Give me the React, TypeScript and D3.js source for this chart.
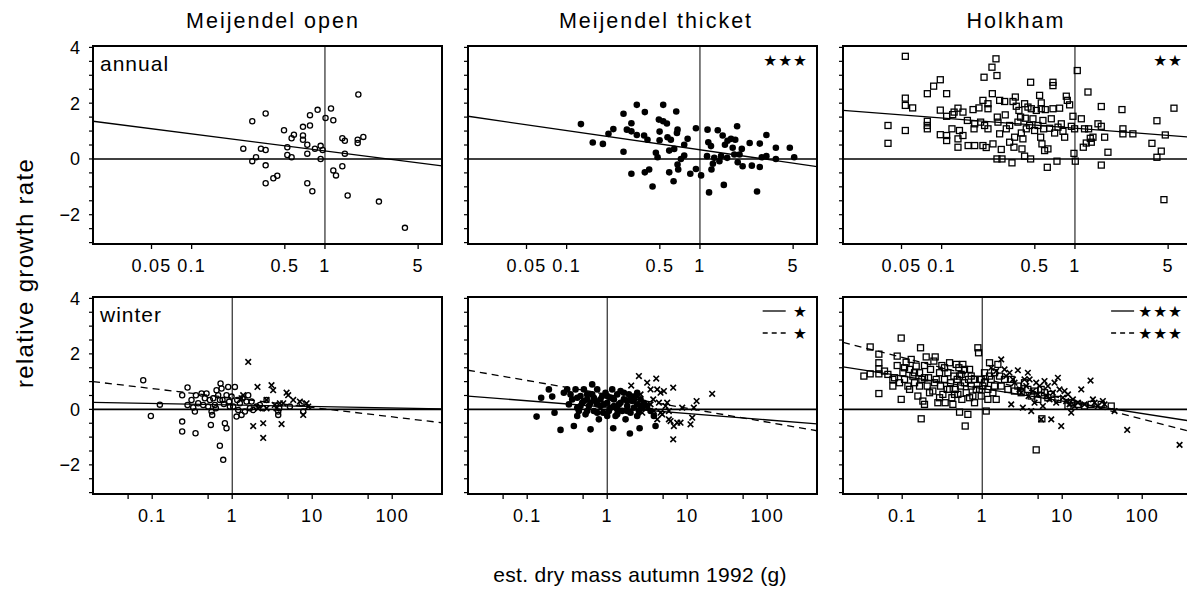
import React from 'react';
import * as d3 from 'd3';

// ---------- data (mass in g, relative growth rate) ----------
const titles = ['Meijendel open', 'Meijendel thicket', 'Holkham'];
const rowLabels = ['annual', 'winter'];
const yTickLabels = [-2, 0, 2, 4];
const topXTicks = [0.05, 0.1, 0.5, 1, 5];
const topXLabels = ['0.05', '0.1', '0.5', '1', '5'];
const bottomXTicks = [0.05, 0.1, 0.5, 1, 5, 10, 50, 100];
const bottomXLabels = ['', '0.1', '', '1', '', '10', '', '100'];

const openAnnual = [[0.244,0.37],[0.285,1.35],[0.285,-0.08],[0.304,0.06],[0.331,0.37],[0.359,1.63],[0.359,0.32],[0.359,-0.23],[0.359,-0.87],[0.41,-0.69],[0.439,-0.6],[0.493,1.03],[0.522,0.42],[0.522,0.14],[0.562,0.06],[0.562,0.74],[0.585,0.87],[0.684,1.15],[0.684,0.84],[0.684,0.69],[0.737,0.51],[0.737,0.19],[0.737,-0.87],[0.772,1.57],[0.772,1.2],[0.804,-1.16],[0.841,0.37],[0.881,1.76],[0.928,0.47],[0.928,0.0],[0.961,0.32],[1.01,1.47],[1.11,1.81],[1.155,1.39],[1.155,-0.41],[1.21,-0.59],[1.35,0.74],[1.35,-0.26],[1.41,0.65],[1.41,0.19],[1.48,-1.31],[1.76,0.57],[1.76,0.69],[1.78,2.31],[1.94,0.79],[2.54,-1.53],[3.98,-2.47]];

const thicketAnnual = [[0.128,1.25],[0.157,0.59],[0.187,0.54],[0.206,0.9],[0.224,1.07],[0.267,1.62],[0.267,0.26],[0.283,1.05],[0.306,1.28],[0.306,0.99],[0.306,-0.53],[0.336,1.94],[0.336,0.86],[0.381,0.84],[0.386,1.68],[0.386,-0.48],[0.404,0.69],[0.416,-0.38],[0.441,-0.99],[0.467,0.22],[0.481,0.06],[0.492,1.41],[0.498,0.98],[0.498,0.67],[0.53,1.94],[0.53,1.35],[0.565,1.27],[0.571,0.78],[0.588,0.3],[0.588,-0.48],[0.605,0.69],[0.634,-0.8],[0.641,0.36],[0.664,1.7],[0.672,0.93],[0.679,1.05],[0.679,-0.2],[0.687,-0.38],[0.72,0.0],[0.762,0.12],[0.762,0.51],[0.808,0.72],[0.846,-0.53],[0.933,1.1],[0.933,-0.36],[1.02,-0.59],[1.13,0.1],[1.14,1.05],[1.155,0.6],[1.17,-1.2],[1.21,0.46],[1.22,-0.38],[1.25,-0.17],[1.28,0.04],[1.36,1.03],[1.4,-0.08],[1.44,0.1],[1.48,0.84],[1.51,-0.93],[1.54,0.51],[1.6,0.04],[1.61,0.65],[1.71,0.72],[1.76,0.4],[1.81,0.16],[1.84,0.69],[1.9,1.17],[1.92,-0.12],[1.98,0.16],[2.06,0.36],[2.09,-0.26],[2.36,0.57],[2.45,-0.24],[2.68,-1.17],[2.81,0.55],[2.81,-0.29],[2.91,0.06],[3.15,0.86],[3.15,0.1],[3.71,0.4],[3.71,0.0],[4.72,0.4],[5.09,0.06]];

const holkhamAnnual = [[0.0396,1.2],[0.0396,0.56],[0.0534,3.68],[0.0534,2.18],[0.0534,1.92],[0.0534,1.02],[0.0606,1.83],[0.0781,2.34],[0.0781,1.35],[0.0781,1.2],[0.0781,1.08],[0.0871,2.61],[0.0977,2.84],[0.0977,0.87],[0.0977,1.75],[0.109,2.34],[0.109,0.84],[0.109,0.66],[0.109,1.53],[0.1195,1.08],[0.121,1.59],[0.124,1.68],[0.1326,1.82],[0.1326,0.72],[0.1326,0.42],[0.136,1.02],[0.1445,0.84],[0.1445,1.68],[0.156,1.38],[0.158,0.48],[0.172,1.77],[0.175,1.08],[0.177,1.26],[0.177,0.48],[0.1905,1.83],[0.196,1.32],[0.204,2.1],[0.204,0.48],[0.208,2.93],[0.21,1.2],[0.216,0.41],[0.2226,1.98],[0.2226,1.8],[0.2226,1.08],[0.2385,3.29],[0.24,2.34],[0.2427,0.54],[0.2556,3.59],[0.26,2.99],[0.26,0.0],[0.2615,1.5],[0.2646,1.32],[0.2723,2.1],[0.2723,0.9],[0.28,0.34],[0.2835,0.0],[0.297,2.06],[0.3,1.58],[0.3055,1.08],[0.3236,1.2],[0.3236,0.6],[0.337,-0.14],[0.343,2.06],[0.3487,0.42],[0.3527,0.78],[0.357,2.22],[0.363,1.89],[0.3736,1.32],[0.38,1.74],[0.391,1.5],[0.396,0.93],[0.4005,0.36],[0.407,0.72],[0.419,1.98],[0.419,0.1],[0.424,1.46],[0.4315,1.08],[0.444,1.86],[0.457,1.2],[0.465,2.75],[0.465,0.0],[0.4705,1.8],[0.484,1.44],[0.498,1.02],[0.513,1.74],[0.528,1.2],[0.543,2.28],[0.553,0.78],[0.559,2.01],[0.559,1.8],[0.5655,0.54],[0.575,1.38],[0.582,1.08],[0.592,0.3],[0.599,1.77],[0.62,-0.3],[0.627,0.36],[0.6457,1.1],[0.6645,1.44],[0.684,2.75],[0.684,2.63],[0.684,1.8],[0.704,0.93],[0.733,-0.08],[0.746,1.14],[0.767,1.82],[0.79,1.26],[0.813,0.99],[0.837,0.78],[0.861,2.25],[0.876,2.1],[0.912,1.94],[0.939,1.17],[0.966,1.53],[0.983,0.2],[0.994,1.08],[1.006,-0.08],[1.041,3.17],[1.116,1.44],[1.155,0.42],[1.18,1.08],[1.216,0.57],[1.252,2.4],[1.266,1.08],[1.303,0.74],[1.326,0.6],[1.365,0.78],[1.488,1.26],[1.576,1.88],[1.576,1.17],[1.576,-0.22],[1.67,0.78],[1.768,0.24],[2.252,1.77],[2.29,1.08],[2.29,0.9],[2.72,0.9],[3.78,0.56],[4.12,1.37],[4.12,0.06],[4.44,0.28],[4.65,-1.46],[4.76,0.86],[5.53,1.82]];

const openWinterAutumn = [[0.0772,1.05],[0.0962,-0.24],[0.1247,0.17],[0.237,0.51],[0.237,-0.44],[0.237,-0.8],[0.2765,0.79],[0.2765,0.16],[0.31,0.34],[0.3256,0.07],[0.3415,-0.08],[0.348,-0.86],[0.3515,0.51],[0.3758,0.22],[0.414,0.57],[0.434,0.16],[0.455,0.4],[0.4776,0.57],[0.501,0.1],[0.526,0.34],[0.541,-0.56],[0.552,-0.08],[0.562,-0.2],[0.579,0.4],[0.607,0.16],[0.625,0.04],[0.637,0.69],[0.668,0.51],[0.701,0.34],[0.701,-1.31],[0.715,0.93],[0.736,0.75],[0.757,0.34],[0.772,-1.82],[0.787,0.19],[0.81,-0.5],[0.849,-0.68],[0.849,0.51],[0.891,0.81],[0.917,0.28],[0.935,0.1],[0.981,0.46],[1.029,0.1],[1.08,0.81],[1.133,-0.26],[1.155,0.34],[1.189,-0.02],[1.247,0.22],[1.308,-0.2],[1.346,0.4],[1.44,-0.08],[1.51,0.28],[1.585,0.51],[1.663,0.04],[1.745,0.28],[1.83,-0.02],[2.015,0.1],[2.218,0.16],[2.44,0.04],[2.685,0.34],[3.76,-0.08],[3.76,-0.2],[3.87,0.04],[5.26,0.1],[7.36,0.22],[7.72,-0.08]];
const openWinterSpring = [[1.585,1.71],[1.83,-0.6],[2.07,0.81],[2.11,0.04],[2.44,-0.5],[2.44,-1.03],[2.685,0.34],[3.1,0.87],[3.25,0.69],[3.41,0.16],[3.58,0.04],[4.14,-0.53],[4.34,0.22],[4.78,0.6],[5.01,0.51],[5.79,0.34],[7.01,0.28],[7.72,-0.2],[8.5,0.22],[8.91,0.1],[2.685,0.04],[1.308,0.4],[1.372,0.51],[3.94,0.22]];

const thicketWinterAutumn = [[0.131,-0.26],[0.1496,0.42],[0.1866,0.72],[0.2054,0.46],[0.2196,-0.12],[0.261,-0.74],[0.287,0.6],[0.316,0.72],[0.332,0.18],[0.348,0.54],[0.365,0.36],[0.383,-0.6],[0.402,0.72],[0.422,0.06],[0.422,0.42],[0.422,-0.24],[0.442,-0.06],[0.464,0.48],[0.464,0.12],[0.487,0.24],[0.511,0.72],[0.511,0.3],[0.536,-0.18],[0.562,0.36],[0.562,0.54],[0.562,-0.06],[0.59,0.12],[0.619,-0.72],[0.619,0.24],[0.649,0.9],[0.649,0.54],[0.681,-0.06],[0.681,0.42],[0.715,0.3],[0.75,0.72],[0.75,0.18],[0.75,-0.12],[0.787,-0.36],[0.825,0.12],[0.825,0.36],[0.866,0.48],[0.891,-0.12],[0.909,0.18],[0.953,0.6],[1.0,0.24],[1.0,0.48],[1.0,-0.24],[1.049,-0.06],[1.1,0.42],[1.1,0.06],[1.155,0.72],[1.189,-0.68],[1.212,0.12],[1.212,0.36],[1.271,-0.24],[1.334,0.54],[1.334,0.0],[1.334,-0.18],[1.4,0.18],[1.468,0.66],[1.468,0.24],[1.54,-0.06],[1.616,0.36],[1.616,0.6],[1.695,-0.36],[1.778,0.12],[1.778,0.3],[1.778,-0.06],[1.866,0.54],[1.92,-0.87],[1.957,-0.12],[1.957,0.48],[2.054,0.3],[2.154,0.06],[2.154,0.36],[2.26,0.48],[2.37,0.18],[2.37,0.6],[2.37,-0.24],[2.49,-0.06],[2.54,-0.68],[2.61,0.36],[2.61,0.12],[2.74,0.06],[2.87,0.24],[3.16,0.12],[3.48,-0.06],[3.83,-0.24],[4.02,-0.6]];
const thicketWinterSpring = [[1.995,0.86],[2.49,1.2],[2.61,0.54],[3.16,0.96],[3.48,0.72],[3.76,0.36],[4.1,1.11],[4.22,0.72],[4.43,0.24],[4.64,0.6],[4.87,-0.18],[5.11,0.66],[5.36,0.12],[5.62,0.24],[5.9,-0.06],[6.19,-0.42],[6.68,0.78],[6.68,-1.08],[6.81,-0.6],[7.5,-0.48],[8.25,-0.48],[8.66,0.06],[11.0,-0.54],[11.55,-0.3],[12.1,0.06],[13.1,0.3],[20.5,0.56],[3.83,-0.06],[4.22,-0.36],[4.64,-0.12],[5.9,-0.36],[2.74,-0.12],[3.48,0.18]];

const holkhamWinterAutumn = [[0.0332,1.2],[0.0398,2.25],[0.0398,1.28],[0.0511,1.99],[0.0511,1.68],[0.0511,1.46],[0.0511,1.28],[0.0511,0.57],[0.0601,1.38],[0.0662,1.26],[0.0764,0.84],[0.0764,1.08],[0.0802,1.14],[0.0866,1.92],[0.0866,1.58],[0.0926,0.96],[0.0972,2.57],[0.0972,0.36],[0.102,1.32],[0.107,1.08],[0.107,1.5],[0.112,1.7],[0.1178,0.84],[0.1236,1.44],[0.1236,0.72],[0.1296,1.8],[0.136,1.2],[0.1426,0.96],[0.1426,1.32],[0.1496,1.56],[0.157,0.48],[0.1647,1.32],[0.1647,0.84],[0.1695,2.22],[0.1728,-0.34],[0.176,1.08],[0.1813,0.3],[0.19,0.18],[0.19,1.58],[0.19,1.14],[0.1995,1.89],[0.2054,0.84],[0.2134,1.14],[0.2196,0.6],[0.226,1.44],[0.2416,0.66],[0.2488,1.74],[0.2535,0.96],[0.2585,1.89],[0.266,1.08],[0.279,0.24],[0.293,1.32],[0.293,0.42],[0.3013,0.84],[0.313,1.58],[0.3224,0.54],[0.338,1.08],[0.338,1.5],[0.3446,0.24],[0.365,0.72],[0.3724,1.32],[0.391,1.68],[0.391,0.72],[0.402,0.96],[0.4178,0.42],[0.43,0.18],[0.4426,1.2],[0.451,0.54],[0.4597,0.72],[0.473,1.62],[0.487,1.08],[0.4965,0.54],[0.511,1.5],[0.521,-0.1],[0.521,1.2],[0.536,0.84],[0.5464,1.26],[0.557,0.36],[0.573,1.62],[0.601,0.96],[0.601,1.44],[0.613,-0.6],[0.631,0.6],[0.662,-0.18],[0.675,1.08],[0.695,1.44],[0.695,0.42],[0.729,0.84],[0.729,1.2],[0.764,0.48],[0.802,0.24],[0.802,1.08],[0.841,0.72],[0.883,2.22],[0.9,2.04],[0.926,1.08],[0.926,0.72],[0.972,0.48],[0.972,1.08],[1.019,0.84],[1.069,1.32],[1.069,0.96],[1.122,-0.06],[1.177,0.36],[1.177,0.72],[1.235,1.68],[1.235,1.2],[1.296,1.08],[1.36,0.6],[1.426,0.84],[1.426,1.32],[1.496,0.36],[1.57,1.62],[1.647,1.2],[1.728,0.84],[1.9,1.08],[2.094,0.72],[2.305,1.08],[2.535,0.66],[2.79,0.84],[3.07,0.6],[3.38,0.96],[3.72,0.72],[4.1,0.48],[4.51,0.66],[4.73,-1.46],[4.96,0.36],[5.46,0.72],[5.57,-0.34],[6.01,0.6],[6.62,0.42],[7.29,0.54],[8.83,0.36],[11.8,0.12],[12.96,0.24],[15.7,0.18],[19.0,0.12],[23.0,0.18],[30.7,0.18],[41.0,0.12]];
const holkhamWinterSpring = [[1.296,1.5],[1.496,1.38],[1.728,1.8],[1.9,1.44],[1.995,1.2],[2.195,1.32],[2.305,0.18],[2.42,1.08],[2.535,0.96],[2.79,1.41],[2.93,0.72],[3.07,0.6],[3.22,0.06],[3.38,1.08],[3.55,0.84],[3.72,1.32],[3.8,0.48],[3.91,1.08],[4.1,-0.06],[4.3,0.66],[4.51,0.24],[4.73,0.96],[4.96,0.54],[5.21,0.84],[5.46,-0.36],[5.73,0.12],[6.01,1.02],[6.31,0.48],[6.62,0.84],[6.95,0.36],[7.29,-0.36],[7.64,0.6],[8.02,0.96],[8.41,0.24],[8.83,1.14],[9.26,0.72],[9.72,-0.6],[10.2,0.42],[10.7,0.66],[11.2,0.3],[11.8,0.54],[12.35,0.18],[12.96,-0.12],[13.6,0.36],[14.3,0.12],[15.7,0.24],[17.3,0.72],[19.0,0.18],[22.6,1.04],[24.2,0.36],[25.4,0.24],[27.9,0.12],[32.2,0.3],[33.8,0.18],[45.1,-0.06],[64.9,-0.74],[293,-1.28]];

// regression fits: [rgr at 1 g, slope per decade of mass]
const annualFits = [[0.29,-0.61],[0.33,-0.69],[1.10,-0.37]];
const winterSolidFits = [[0.16,-0.054],[0.08,-0.23],[0.75,-0.45]];
const winterDashedFits = [[0.41,-0.34],[0.54,-0.50],[1.13,-0.74]];
const annualSig = ['', '★★★', '★★'];
const winterSig = [['', ''], ['★', '★'], ['★★★', '★★★']];

// ---------- layout ----------
const W = 1187, H = 593;
const FONT = '"Liberation Sans", Arial, Helvetica, sans-serif';
const STARFONT = '"DejaVu Sans", sans-serif';
const lefts = [93, 468, 843];
const PW = 349;
const rowBox = [{ top: 46, bottom: 244 }, { top: 297, bottom: 494 }];
const topDomain = [0.0182, 7.55];
const bottomDomain = [0.0182, 419];
const yDomain = [-3.05, 4.05];
const titleX = [273, 656, 1016];

const annualSeries = [
  [{ data: openAnnual, shape: 'circle' }],
  [{ data: thicketAnnual, shape: 'dot' }],
  [{ data: holkhamAnnual, shape: 'square' }],
];
const winterSeries = [
  [{ data: openWinterAutumn, shape: 'circle' }, { data: openWinterSpring, shape: 'cross' }],
  [{ data: thicketWinterAutumn, shape: 'dot' }, { data: thicketWinterSpring, shape: 'cross' }],
  [{ data: holkhamWinterAutumn, shape: 'square' }, { data: holkhamWinterSpring, shape: 'cross' }],
];

function marker(shape: string, x: number, y: number, k: string) {
  if (shape === 'circle') return <circle key={k} cx={x} cy={y} r={2.6} fill="none" stroke="#000" strokeWidth={1.3} />;
  if (shape === 'dot') return <circle key={k} cx={x} cy={y} r={3.3} fill="#000" />;
  if (shape === 'square') return <rect key={k} x={x - 3} y={y - 3} width={6} height={6} fill="none" stroke="#000" strokeWidth={1.3} />;
  const s = 2.8;
  return <path key={k} d={`M${x - s},${y - s}L${x + s},${y + s}M${x - s},${y + s}L${x + s},${y - s}`} stroke="#000" strokeWidth={1.6} fill="none" />;
}

function Panel({ row, col }: { row: number; col: number }) {
  const box = rowBox[row];
  const L = lefts[col];
  const R = L + PW;
  const dom = row === 0 ? topDomain : bottomDomain;
  const x = d3.scaleLog().domain(dom).range([L, R]);
  const y = d3.scaleLinear().domain(yDomain).range([box.bottom, box.top]);
  const ticks = row === 0 ? topXTicks : bottomXTicks;
  const labels = row === 0 ? topXLabels : bottomXLabels;
  const series = row === 0 ? annualSeries[col] : winterSeries[col];
  const fitSets = row === 0 ? [annualFits[col]] : [winterSolidFits[col], winterDashedFits[col]];
  const clipId = `clip-${row}-${col}`;
  const yTicks = d3.range(-3, 4.01, 0.5);
  const fitPath = (f: number[]) => {
    const g = d3.line<number>().x((v) => x(v)).y((v) => y(f[0] + f[1] * Math.log10(v)));
    return g(dom) || '';
  };
  return (
    <g>
      <defs>
        <clipPath id={clipId}>
          <rect x={L} y={box.top} width={PW} height={box.bottom - box.top} />
        </clipPath>
      </defs>
      <g clipPath={`url(#${clipId})`}>
        <line x1={x(1)} x2={x(1)} y1={box.top} y2={box.bottom} stroke="#000" strokeWidth={1} />
        <line x1={L} x2={R} y1={y(0)} y2={y(0)} stroke="#000" strokeWidth={1.6} />
        {series.map((s, si) => s.data.map((d, i) => marker(s.shape, x(d[0]), y(d[1]), `${si}-${i}`)))}
        {fitSets.map((f, fi) => (
          <path key={fi} d={fitPath(f)} fill="none" stroke="#000" strokeWidth={1.3} strokeDasharray={fi === 1 ? '7,5' : undefined} />
        ))}
      </g>
      {yTicks.map((t, i) => (
        <line key={i} x1={L - 4} x2={L} y1={y(t)} y2={y(t)} stroke="#000" strokeWidth={1.2} />
      ))}
      {col === 0 && yTickLabels.map((t) => (
        <text key={t} x={L - 13} y={y(t) + 6.5} textAnchor="end" fontFamily={FONT} fontSize={18}>
          {t < 0 ? `\u2212${Math.abs(t)}` : `${t}`}
        </text>
      ))}
      {ticks.map((t, i) => (
        <g key={i}>
          <line x1={x(t)} x2={x(t)} y1={box.bottom} y2={box.bottom + 5} stroke="#000" strokeWidth={1.3} />
          {labels[i] && (
            <text x={x(t)} y={box.bottom + 28} textAnchor="middle" fontFamily={FONT} fontSize={18} letterSpacing={1.2}>
              {labels[i]}
            </text>
          )}
        </g>
      ))}
      <rect x={L} y={box.top} width={PW} height={box.bottom - box.top} fill="none" stroke="#000" strokeWidth={2} />
      {col === 0 && (
        <text x={L + 7} y={box.top + 24.5} fontFamily={FONT} fontSize={21} letterSpacing={1}>
          {rowLabels[row]}
        </text>
      )}
      {row === 0 && annualSig[col] && (
        <text x={R - 9} y={box.top + 20} textAnchor="end" fontFamily={STARFONT} fontSize={15.5} letterSpacing={1}>
          {annualSig[col]}
        </text>
      )}
      {row === 1 && winterSig[col].map((s, i) => {
        if (!s) return null;
        const cy = box.top + 14 + i * 22;
        const textEnd = R - 9;
        const lineEnd = textEnd - s.length * 13.3 - 9;
        return (
          <g key={i}>
            <line x1={lineEnd - 23} x2={lineEnd} y1={cy} y2={cy} stroke="#000" strokeWidth={1.3} strokeDasharray={i === 1 ? '5,4' : undefined} />
            <text x={textEnd} y={cy + 6} textAnchor="end" fontFamily={STARFONT} fontSize={15.5} letterSpacing={1}>
              {s}
            </text>
          </g>
        );
      })}
    </g>
  );
}

export default function App() {
  return (
    <svg width={W} height={H} viewBox={`0 0 ${W} ${H}`} style={{ position: 'absolute', left: 0, top: 0, background: '#fff' }}>
      <rect x={0} y={0} width={W} height={H} fill="#fff" />
      {titles.map((t, i) => (
        <text key={t} x={titleX[i]} y={28} textAnchor="middle" fontFamily={FONT} fontSize={21.5} letterSpacing={2}>
          {t}
        </text>
      ))}
      {[0, 1].map((r) => [0, 1, 2].map((c) => <Panel key={`${r}-${c}`} row={r} col={c} />))}
      <text transform="translate(33,273) rotate(-90)" textAnchor="middle" fontFamily={FONT} fontSize={24} letterSpacing={1.3}>
        relative growth rate
      </text>
      <text x={640} y={582} textAnchor="middle" fontFamily={FONT} fontSize={21} letterSpacing={0.3}>
        est. dry mass autumn 1992 (g)
      </text>
    </svg>
  );
}
